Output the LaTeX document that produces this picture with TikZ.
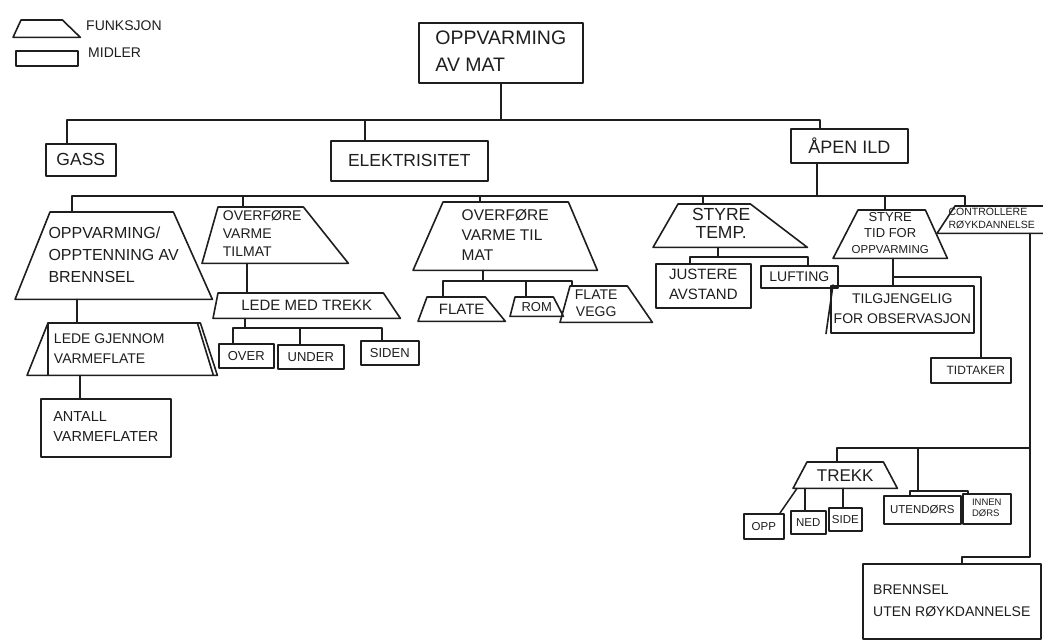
\documentclass[tikz,border=0pt]{standalone}
\usepackage{fontspec}
\setmainfont{Liberation Sans}
\definecolor{ink}{HTML}{1E1E1E}
\newcommand\tl[1]{\begin{tabular}{@{}l@{}}#1\end{tabular}}
\newcommand\tc[1]{\begin{tabular}{@{}c@{}}#1\end{tabular}}
\newcommand\fsz[2]{\fontsize{#1}{#2}\selectfont}
\newcommand\trap[3]{\draw[inkline] (#1.south west) -- ([xshift=#2pt]#1.north west) -- ([xshift=-#3pt]#1.north east) -- (#1.south east) -- cycle;}
\begin{document}
\begin{tikzpicture}[x=1pt,y=-1pt,
  inkline/.style={draw=ink, line width=1.6pt, line join=round, line cap=round},
  mid/.style={inkline, rectangle, inner sep=1pt, anchor=north west, text=ink},
  fun/.style={rectangle, draw=none, inner sep=0pt, anchor=north west, text=ink},
  lbl/.style={inner sep=0pt, anchor=west, text=ink},
  con/.style={draw=ink, line width=1.5pt, line cap=round, line join=round}]
\useasboundingbox[fill=white] (0,0) rectangle (1043,640);

% legend
\node[fun, minimum width=67pt, minimum height=17pt] (legf) at (13,20) {};
\trap{legf}{8}{18}
\node[lbl, font=\fsz{14}{16}] (legft) at (86,26) {FUNKSJON};
\node[mid, minimum width=62pt, minimum height=15pt] (legm) at (15,50) {};
\node[lbl, font=\fsz{14}{16}] (legmt) at (88,53) {MIDLER};

% level 0
\node[mid, minimum width=164pt, minimum height=60pt, font=\fsz{19.5}{27}] (top) at (418,22) {\tl{OPPVARMING\\AV MAT}};

% level 1
\node[mid, minimum width=70pt, minimum height=32pt, font=\fsz{17.5}{20}] (gass) at (45,143) {GASS};
\node[mid, minimum width=157pt, minimum height=40pt, font=\fsz{17.5}{20}] (elek) at (330,140) {ELEKTRISITET};
\node[mid, minimum width=117pt, minimum height=34pt, font=\fsz{18}{20}] (apen) at (790,128) {ÅPEN ILD};

% level 2
\node[fun, minimum width=197pt, minimum height=87pt, font=\fsz{16}{22}] (opp) at (15,212) {\tl{OPPVARMING/\\OPPTENNING AV\\BRENNSEL}};
\trap{opp}{35}{39}
\node[fun, minimum width=146pt, minimum height=56pt, font=\fsz{14}{18}] (ovl) at (202,207) {\tl{OVERFØRE\\VARME\\TILMAT}\hspace*{26pt}};
\trap{ovl}{16}{45}
\node[fun, minimum width=184pt, minimum height=68pt, font=\fsz{15.5}{20}] (ovm) at (413,202) {\tl{OVERFØRE\\VARME TIL\\MAT}};
\trap{ovm}{30}{29}
\node[fun, minimum width=154pt, minimum height=43pt, font=\fsz{17.5}{18}] (styt) at (653,204) {\tc{STYRE\\TEMP.}\hspace*{18pt}};
\trap{styt}{25}{57}
\node[fun, minimum width=114pt, minimum height=47pt, font=\fsz{13}{16}] (stytid) at (833,210) {\tc{STYRE\\TID FOR\\{\fsz{11.5}{16}OPPVARMING}}};
\trap{stytid}{25}{22}
\node[fun, minimum width=109pt, minimum height=27pt, font=\fsz{10.5}{13}] (contr) at (937,206) {\tl{CONTROLLERE\\RØYKDANNELSE}};
\trap{contr}{18}{0}

% left branch
\node[fun, minimum width=190pt, minimum height=52pt, font=\fsz{14}{20}] (lg) at (27,323) {\tl{LEDE GJENNOM\\VARMEFLATE}\hspace*{26pt}};
\trap{lg}{21}{17}
\draw[inkline] ([xshift=21pt]lg.north west) -- ([xshift=21pt]lg.south west);
\draw[inkline] ([xshift=-20pt]lg.north east) -- ([xshift=-4pt]lg.south east);
\node[mid, minimum width=130pt, minimum height=58pt, font=\fsz{14.5}{20}] (antall) at (40,398) {\tl{ANTALL\\VARMEFLATER}};

% lede med trekk
\node[fun, minimum width=187pt, minimum height=25pt, font=\fsz{15}{18}] (lmt) at (213,293) {LEDE MED TREKK};
\trap{lmt}{5}{17}
\node[mid, minimum width=55pt, minimum height=24pt, font=\fsz{13}{15}] (over) at (218,343) {OVER};
\node[mid, minimum width=66pt, minimum height=24pt, font=\fsz{13}{15}] (under) at (277,344) {UNDER};
\node[mid, minimum width=58pt, minimum height=24pt, font=\fsz{13}{15}] (siden) at (360,340) {SIDEN};

% flate / rom / flate vegg
\node[fun, minimum width=87pt, minimum height=24pt, font=\fsz{15}{17}] (flate) at (418,297) {FLATE};
\trap{flate}{9}{20}
\node[fun, minimum width=53pt, minimum height=19pt, font=\fsz{13}{15}] (rom) at (510,297) {ROM};
\trap{rom}{5}{10}
\node[fun, minimum width=92pt, minimum height=36pt, font=\fsz{14}{17}] (flatev) at (560,286) {\tc{FLATE\\VEGG}\hspace*{20pt}};
\trap{flatev}{10}{25}

% styre temp children
\node[mid, minimum width=95pt, minimum height=44pt, font=\fsz{15}{20}] (just) at (655,263) {\tl{JUSTERE\\AVSTAND}};
\node[mid, minimum width=77pt, minimum height=22pt, font=\fsz{14}{16}] (luft) at (760,265) {LUFTING};

% styre tid children
\node[mid, minimum width=143pt, minimum height=47pt, font=\fsz{14}{20}] (tilgj) at (830,285) {\tc{TILGJENGELIG\\FOR OBSERVASJON}};
\draw[inkline] ([xshift=3pt]tilgj.north west) -- ([xshift=-4pt]tilgj.south west);
\node[mid, minimum width=80pt, minimum height=25pt, font=\fsz{12}{14}] (tid) at (930,357) {\hspace*{10pt}TIDTAKER};

% kontrollere children
\node[fun, minimum width=104pt, minimum height=26pt, font=\fsz{17}{19}] (trekk) at (793,462) {TREKK};
\trap{trekk}{14}{14}
\node[mid, minimum width=40pt, minimum height=25pt, font=\fsz{11.5}{13}] (opp2) at (743,513) {OPP};
\node[mid, minimum width=35pt, minimum height=23pt, font=\fsz{11.5}{13}] (ned) at (790,510) {NED};
\node[mid, minimum width=33pt, minimum height=23pt, font=\fsz{11.5}{13}] (side) at (828,507) {SIDE};
\node[mid, minimum width=77pt, minimum height=28pt, font=\fsz{11.5}{13}] (ute) at (883,495) {UTENDØRS};
\node[mid, minimum width=48pt, minimum height=30pt, font=\fsz{9.5}{11}] (inne) at (962,493) {\tl{INNEN\\DØRS}};
\node[mid, minimum width=178pt, minimum height=75pt, font=\fsz{14}{22}] (brn) at (862,563) {\tl{BRENNSEL\\UTEN RØYKDANNELSE}};

% connectors level 0 -> 1
\coordinate (bA) at (top.south |- 0,120);
\draw[con] (top.south) -- (bA);
\draw[con] ([xshift=22pt]gass.north west) |- (bA);
\draw[con] ([xshift=35pt]elek.north west) |- (bA);
\draw[con] ([xshift=30pt]apen.north west) |- (bA);

% level 1 -> 2
\coordinate (bB) at (817,196);
\draw[con] (bB |- apen.south) -- (bB);
\draw[con] ([xshift=57pt]opp.north west) |- (bB);
\draw[con] ([xshift=41pt]ovl.north west) |- (bB);
\draw[con] ([xshift=67pt]ovm.north west) |- (bB);
\draw[con] ([xshift=50pt]styt.north west) |- (bB);
\draw[con] ([xshift=52pt]stytid.north west) |- (bB);
\draw[con] ([xshift=28pt]contr.north west) |- (bB);

% left branch
\draw[con] ([xshift=62pt]opp.south west) -- ([xshift=62pt]opp.south west |- lg.north);
\draw[con] ([xshift=40pt]antall.north west) -- ([xshift=40pt]antall.north west |- lg.south);

% overfore left
\draw[con] ([xshift=45pt]ovl.south west) -- ([xshift=45pt]ovl.south west |- lmt.north);
\coordinate (bC) at (245,328);
\draw[con] (bC |- lmt.south) -- (bC);
\draw[con] ([xshift=15pt]over.north west) |- (bC);
\draw[con] ([xshift=23pt]under.north west) |- (bC);
\draw[con] ([xshift=22pt]siden.north west) |- (bC);

% overfore middle
\coordinate (bD) at (483,281);
\draw[con] (bD |- ovm.south) -- (bD);
\draw[con] ([xshift=25pt]flate.north west) |- (bD);
\draw[con] ([xshift=16pt]rom.north west) |- (bD);
\draw[con] ([xshift=12pt]flatev.north west) |- (bD);

% styre temp
\coordinate (bE) at (718,257);
\draw[con] (bE |- styt.south) -- (bE);
\draw[con] ([xshift=35pt]just.north west) |- (bE);
\draw[con] ([xshift=48pt]luft.north west) |- (bE);

% styre tid
\coordinate (bF) at (893,277);
\draw[con] (bF |- stytid.south) -- (bF) -- (bF |- tilgj.north);
\draw[con] ([xshift=51pt]tid.north west) |- (bF);

% kontrollere
\coordinate (bG) at (1030,448);
\draw[con] (bG |- contr.south) -- (bG);
\draw[con] ([xshift=44pt]trekk.north west) |- (bG);
\coordinate (bI) at (918,491);
\draw[con] (bI |- bG) -- (bI);
\draw[con] ([xshift=27pt]ute.north west) |- (bI);
\draw[con] ([xshift=6pt]inne.north west) |- (bI);
\coordinate (bH) at (1030,557);
\draw[con] (bG) -- (bH) -| ([xshift=100pt]brn.north west);

% trekk children
\draw[con] ([xshift=4pt]trekk.south west) -- ([xshift=37pt]opp2.north west);
\draw[con] ([xshift=15pt]ned.north west) -- ([xshift=15pt]ned.north west |- trekk.south);
\draw[con] ([xshift=15pt]side.north west) -- ([xshift=15pt]side.north west |- trekk.south);
\end{tikzpicture}
\end{document}
